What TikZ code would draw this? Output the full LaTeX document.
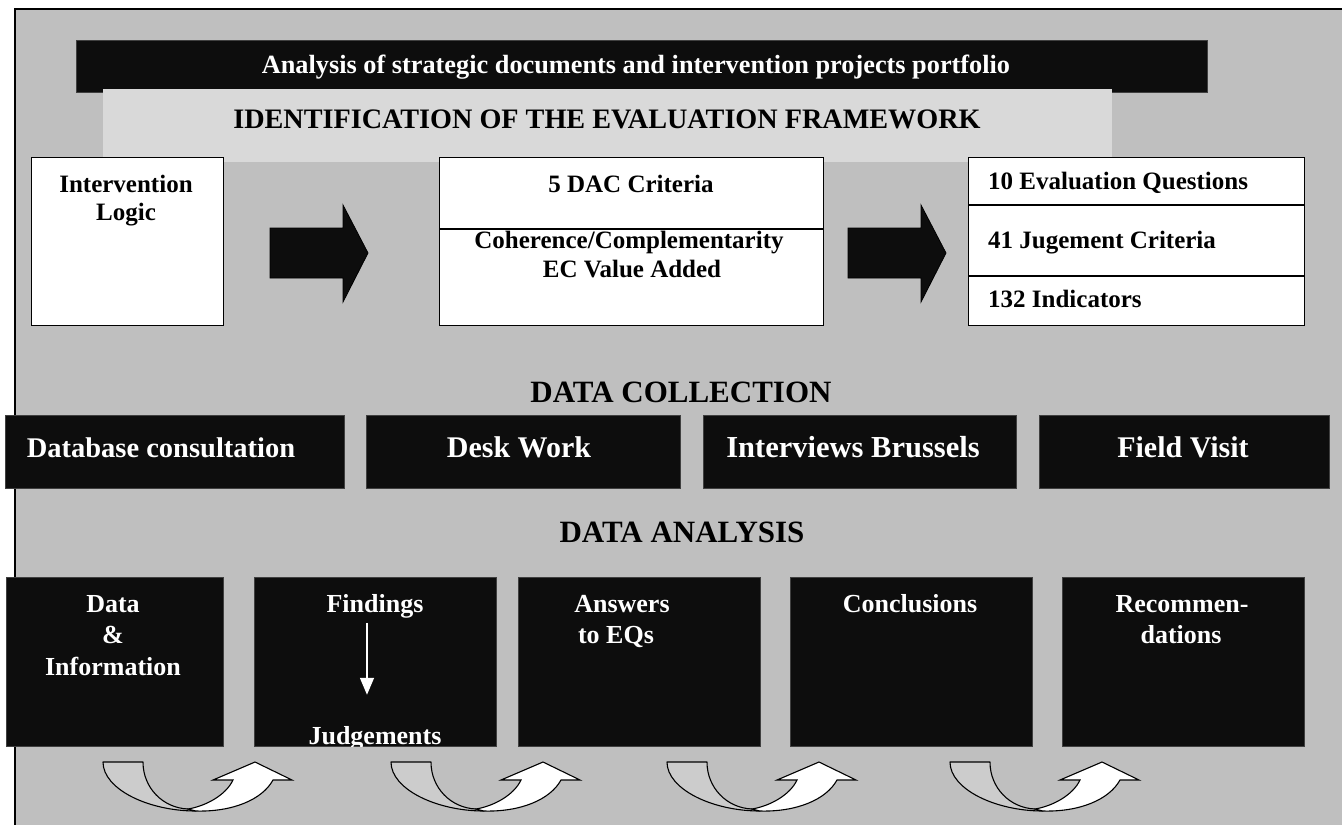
\documentclass[tikz,border=0pt]{standalone}
\usepackage{fontspec}
\setmainfont{Liberation Serif}
\usetikzlibrary{arrows.meta}
\definecolor{panel}{HTML}{BFBFBF}
\definecolor{band}{HTML}{D9D9D9}
\definecolor{ink}{HTML}{0D0D0D}
\definecolor{tailgray}{HTML}{CCCCCC}
\newcommand{\fs}[1]{\fontsize{#1}{#1}\selectfont\bfseries}

\begin{document}
\begin{tikzpicture}[x=1pt,y=-1pt,
  whitebox/.style={draw=black,line width=1.4pt,fill=white,inner sep=0,anchor=north west},
  darkbox/.style={draw=black!75,line width=0.9pt,fill=ink,inner sep=0,anchor=north west},
  txt/.style={inner sep=0,anchor=base},
  txtl/.style={inner sep=0,anchor=base west},
  toptxt/.style={txt,font=\fs{25}},
  colltxt/.style={txt,font=\fs{30},text=white},
  antxt/.style={txt,font=\fs{26},text=white},
  heading/.style={txt,font=\fs{31}},
  blockarrow/.style={fill=ink,draw=black,line width=0.8pt},
  tailpart/.style={fill=tailgray,draw=black,line width=1.1pt,line join=round},
  headpart/.style={fill=white,draw=black,line width=1.1pt,line join=miter},
  thinarrow/.style={draw=white,line width=1.5pt,-{Triangle[length=17pt,width=14pt]}}]

\useasboundingbox (0,0) rectangle (1342,825);
\clip (0,0) rectangle (1342,825);

% background panel
\fill[panel] (15,9) rectangle (1350,835);
\draw[line width=2pt] (15,835) -- (15,9) -- (1350,9);

% title bands
\node[darkbox,minimum width=1131pt,minimum height=52pt] (bar) at (76,40) {};
\node[txt,font=\fs{26.3},text=white] (bartxt) at (636,73) {Analysis of strategic documents and intervention projects portfolio};
\fill[band] (103,89) rectangle (1112,162);
\node[txt,font=\fs{28.2}] (ident) at (607,128) {IDENTIFICATION OF THE EVALUATION FRAMEWORK};

% evaluation framework boxes
\node[whitebox,minimum width=192pt,minimum height=168pt] (il) at (31,157) {};
\node[toptxt] (il1) at (126,192) {Intervention};
\node[toptxt] (il2) at (126,220) {Logic};

\node[whitebox,minimum width=384pt,minimum height=168pt] (dac) at (439,157) {};
\draw[line width=1.2pt] (dac.west |- 0,229) -- (dac.east |- 0,229);
\node[toptxt] (dac1) at (631,192) {5 DAC Criteria};
\node[toptxt] (dac2) at (629,248) {Coherence/Complementarity};
\node[toptxt] (dac3) at (632,277) {EC Value Added};

\node[whitebox,minimum width=336pt,minimum height=168pt] (eq) at (968,157) {};
\draw[line width=1.2pt] (eq.west |- 0,205) -- (eq.east |- 0,205);
\draw[line width=1.2pt] (eq.west |- 0,276) -- (eq.east |- 0,276);
\node[txtl,font=\fs{25}] (eq1) at (988,189) {10 Evaluation Questions};
\node[txtl,font=\fs{25}] (eq2) at (988,248) {41 Jugement Criteria};
\node[txtl,font=\fs{25}] (eq3) at (988,307) {132 Indicators};

% block arrows between the boxes
\draw[blockarrow] (270,228) -- (343,228) -- (343,205) -- (368,253) -- (343,302) -- (343,278) -- (270,278) -- cycle;
\draw[blockarrow] (848,228) -- (921,228) -- (921,205) -- (946,253) -- (921,302) -- (921,278) -- (848,278) -- cycle;

% data collection
\node[heading] (dc) at (681,402) {DATA COLLECTION};
\node[darkbox,minimum width=339pt,minimum height=73pt] (db) at (5,415) {};
\node[colltxt,font=\fs{28.5}] (dbt) at (161,457) {Database consultation};
\node[darkbox,minimum width=314pt,minimum height=73pt] (dw) at (366,415) {};
\node[colltxt] (dwt) at (519,457) {Desk Work};
\node[darkbox,minimum width=313pt,minimum height=73pt] (ib) at (703,415) {};
\node[colltxt,font=\fs{30.5}] (ibt) at (853,457) {Interviews Brussels};
\node[darkbox,minimum width=290pt,minimum height=73pt] (fv) at (1039,415) {};
\node[colltxt] (fvt) at (1183,457) {Field Visit};

% data analysis
\node[heading] (da) at (682,542) {DATA ANALYSIS};
\node[darkbox,minimum width=217pt,minimum height=169pt] (an1) at (6,577) {};
\node[antxt] (an1a) at (113,612) {Data};
\node[antxt] (an1b) at (113,643) {\&};
\node[antxt] (an1c) at (113,675) {Information};

\node[darkbox,minimum width=242pt,minimum height=169pt] (an2) at (254,577) {};
\node[antxt] (find) at (375,612) {Findings};
\begin{scope}
  \clip (an2.north west) rectangle (an2.south east);
  \node[antxt] (judg) at (375,744) {Judgements};
\end{scope}
\draw[thinarrow] ([xshift=-8pt,yshift=-5pt]find.south) -- ([xshift=-8pt,yshift=31pt]judg.north);

\node[darkbox,minimum width=242pt,minimum height=169pt] (an3) at (518,577) {};
\node[antxt] (an3a) at (622,612) {Answers};
\node[antxt] (an3b) at (616,643) {to EQs};

\node[darkbox,minimum width=242pt,minimum height=169pt] (an4) at (790,577) {};
\node[antxt] (an4a) at (910,612) {Conclusions};

\node[darkbox,minimum width=242pt,minimum height=169pt] (an5) at (1062,577) {};
\node[antxt] (an5a) at (1182,612) {Recommen-};
\node[antxt] (an5b) at (1181,643) {dations};

% curved up arrows along the bottom
\foreach \dx in {0,288,564,847}{
  \begin{scope}[xshift=\dx pt]
    \draw[tailpart] (103,762) -- (143,762)
      .. controls (143,788) and (163,808) .. (188,809)
      -- (196,811)
      .. controls (148,811) and (103,789) .. cycle;
    \draw[headpart] (188,809)
      .. controls (206,806) and (226,795) .. (233,780)
      -- (213,780) -- (255,762) -- (292,780) -- (273,780)
      .. controls (262,800) and (232,812) .. (196,811) -- cycle;
  \end{scope}
}
\end{tikzpicture}
\end{document}
